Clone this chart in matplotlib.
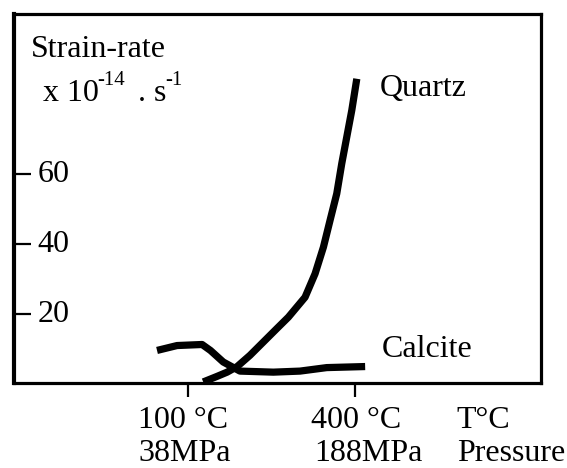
import matplotlib
matplotlib.use('Agg')
import matplotlib.pyplot as plt

# values (temperature in deg C, strain-rate x 1e-14 s^-1)
quartz_t = [127, 152, 170, 188, 211, 235, 259, 280, 310, 328, 343, 355, 367, 376, 385, 394, 403]
quartz_rate = [0.7, 2.3, 3.5, 5.1, 8.3, 12.1, 15.9, 19.2, 24.9, 31.6, 39.2, 46.9, 54.5, 63.1, 70.7, 78.3, 87.3]
calcite_t = [44, 80, 125, 140, 163, 193, 253, 301, 349, 418]
calcite_rate = [9.7, 11.1, 11.4, 9.7, 6.4, 3.8, 3.5, 3.8, 4.8, 5.1]

y_ticks = [20, 40, 60]
x_ticks = [100, 400]
x_top_labels = ['100 \u00b0C', '400 \u00b0C']
x_bottom_labels = ['38MPa', '188MPa']

W, H = 567, 468
plt.rcParams['font.family'] = ['Liberation Serif', 'DejaVu Serif']
FS = 23

fig = plt.figure(figsize=(W / 100, H / 100), dpi=100)
ax = fig.add_axes([14 / W, 1 - 383 / H, 527 / W, 369 / H])

def px(x, y):
    # figure pixel (from top-left) -> figure fraction
    return x / W, 1 - y / H

ax.plot(quartz_t, quartz_rate, color='black', lw=5.2, solid_capstyle='butt',
        solid_joinstyle='round')
ax.plot(calcite_t, calcite_rate, color='black', lw=5.2, solid_capstyle='butt',
        solid_joinstyle='round')

ax.set_xlim(-213, 734)
ax.set_ylim(0.4, 105.8)

for side in ['left', 'right', 'top', 'bottom']:
    ax.spines[side].set_linewidth(2.3)
ax.spines['left'].set_linewidth(3)

ax.set_yticks(y_ticks)
ax.set_yticklabels([])
ax.tick_params(axis='y', direction='in', length=12, width=1.6)
for v in y_ticks:
    ax.text(0.044, v, str(v), transform=ax.get_yaxis_transform(),
            ha='left', va='center', fontsize=FS)

ax.set_xticks(x_ticks)
ax.set_xticklabels([])
ax.tick_params(axis='x', direction='out', length=10, width=1.6)
for v, top, bot, dx1, dx2 in zip(x_ticks, x_top_labels, x_bottom_labels,
                                 [-50, -44], [-50, -41]):
    ax.annotate(top, xy=(v, H - 428), xycoords=('data', 'figure pixels'),
                xytext=(dx1 * 0.72, 0), textcoords='offset points',
                ha='left', va='baseline', fontsize=FS)
    ax.annotate(bot, xy=(v, H - 461), xycoords=('data', 'figure pixels'),
                xytext=(dx2 * 0.72, 0), textcoords='offset points',
                ha='left', va='baseline', fontsize=FS)

fig.text(*px(456, 428), 'T\u00b0C', fontsize=FS, va='baseline')
fig.text(*px(457, 461), 'Pressure', fontsize=FS, va='baseline')

# axis title
fig.text(*px(31, 57), 'Strain-rate', fontsize=FS, va='baseline')
fig.text(*px(43, 101), 'x 10', fontsize=FS, va='baseline')
fig.text(*px(97, 85), '-14', fontsize=15, va='baseline')
fig.text(*px(138, 101), '. s', fontsize=FS, va='baseline')
fig.text(*px(165, 85), '-1', fontsize=15, va='baseline')

fig.text(*px(380, 96), 'Quartz', fontsize=FS, va='baseline')
fig.text(*px(382, 357), 'Calcite', fontsize=FS, va='baseline')

fig.savefig('out.png', dpi=100)
